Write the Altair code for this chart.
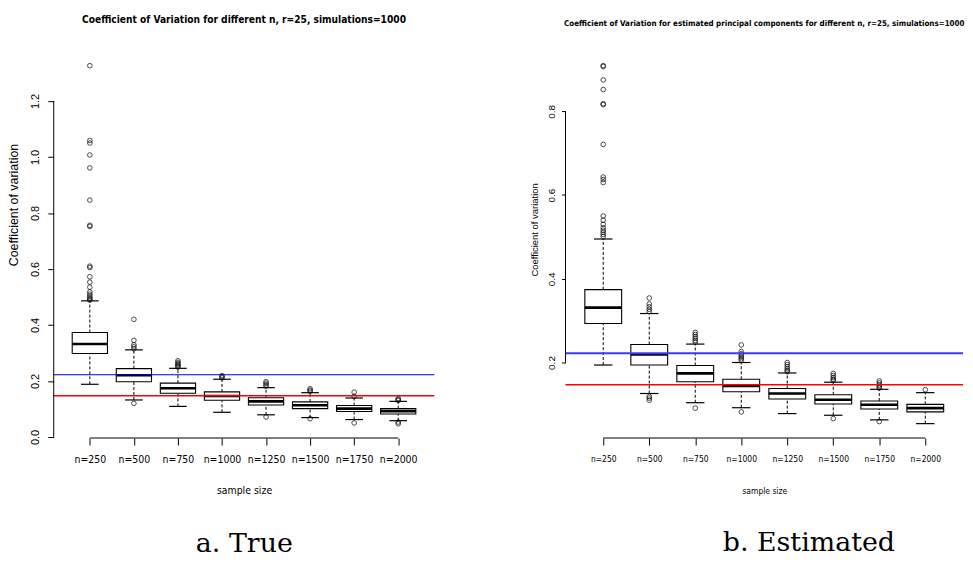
import altair as alt
import pandas as pd

# ---------------- data ----------------
labels = ["n=250", "n=500", "n=750", "n=1000", "n=1250", "n=1500", "n=1750", "n=2000"]
positions = [1, 2, 3, 4, 5, 6, 7, 8]

# panel a: true principal components
true_lo = [0.188, 0.132, 0.109, 0.088, 0.079, 0.069, 0.062, 0.058]
true_q1 = [0.298, 0.197, 0.156, 0.131, 0.114, 0.101, 0.091, 0.082]
true_med = [0.332, 0.220, 0.174, 0.146, 0.127, 0.113, 0.101, 0.092]
true_q3 = [0.373, 0.244, 0.192, 0.161, 0.140, 0.125, 0.112, 0.101]
true_hi = [0.486, 0.311, 0.245, 0.206, 0.176, 0.158, 0.139, 0.127]
true_out = [
    [1.326, 1.059, 1.050, 1.007, 0.961, 0.846, 0.756, 0.752, 0.610, 0.605, 0.572,
     0.553, 0.535, 0.518, 0.510, 0.503, 0.497, 0.492, 0.489],
    [0.420, 0.345, 0.329, 0.322, 0.315, 0.120],
    [0.272, 0.266, 0.261, 0.257, 0.253, 0.249],
    [0.219, 0.215, 0.211],
    [0.197, 0.192, 0.186, 0.181, 0.071],
    [0.172, 0.167, 0.163, 0.065],
    [0.160, 0.145, 0.050],
    [0.137, 0.133, 0.130, 0.053, 0.047],
]

# panel b: estimated principal components
est_lo = [0.194, 0.126, 0.104, 0.092, 0.078, 0.074, 0.063, 0.054]
est_q1 = [0.293, 0.194, 0.154, 0.130, 0.113, 0.101, 0.089, 0.082]
est_med = [0.331, 0.219, 0.174, 0.144, 0.126, 0.111, 0.099, 0.091]
est_q3 = [0.374, 0.243, 0.193, 0.160, 0.138, 0.123, 0.108, 0.100]
est_hi = [0.495, 0.317, 0.244, 0.200, 0.175, 0.153, 0.136, 0.128]
est_out = [
    [0.909, 0.907, 0.875, 0.852, 0.818, 0.816, 0.721, 0.643, 0.637, 0.630, 0.550,
     0.540, 0.530, 0.522, 0.516, 0.511, 0.506, 0.501],
    [0.354, 0.340, 0.333, 0.327, 0.322, 0.119, 0.115, 0.110],
    [0.272, 0.267, 0.262, 0.258, 0.253, 0.249, 0.091],
    [0.242, 0.226, 0.221, 0.217, 0.213, 0.209, 0.205, 0.082],
    [0.200, 0.195, 0.190, 0.185, 0.181, 0.178],
    [0.174, 0.169, 0.164, 0.160, 0.157, 0.066],
    [0.156, 0.151, 0.146, 0.142, 0.139, 0.059],
    [0.135],
]

ref_values = [0.222, 0.147]      # blue, red reference lines

true_ticks = [0.0, 0.2, 0.4, 0.6, 0.8, 1.0, 1.2]
est_ticks = [0.2, 0.4, 0.6, 0.8]

x_domain = [0.18, 8.82]
true_domain = [-0.004, 1.377]
est_domain = [0.0196, 0.943]

NARROW = "Liberation Sans Narrow, Arial Narrow, DejaVu Sans Condensed, sans-serif"
SANS = "Liberation Sans, Arial, sans-serif"

label_expr = "[" + ",".join("'" + l + "'" for l in labels) + "][datum.value - 1]"


def panel(lo, q1, med, q3, hi, outs, yticks, ydomain, width, title, tfs,
          xlab_fs, xtitle_fs, ylab_fs, ytitle_fs, ytitle_x, ytitle_y, ylab_pad,
          ytick, ref_colors, ref_widths):
    stats = pd.DataFrame({"pos": positions, "lo": lo, "q1": q1, "med": med,
                          "q3": q3, "hi": hi})
    stats["left"] = stats["pos"] - 0.4
    stats["right"] = stats["pos"] + 0.4
    stats["capl"] = stats["pos"] - 0.2
    stats["capr"] = stats["pos"] + 0.2
    out_df = pd.DataFrame([{"pos": p, "v": v} for p, vs in zip(positions, outs) for v in vs])
    ref_df = pd.DataFrame({"v": ref_values, "c": ref_colors, "w": ref_widths,
                           "x0": [x_domain[0]] * 2, "x1": [x_domain[1]] * 2})
    yaxis_df = pd.DataFrame({"x": [x_domain[0]], "y0": [yticks[0]], "y1": [yticks[-1]]})
    xaxis_df = pd.DataFrame({"y": [ydomain[0]], "x0": [positions[0]], "x1": [positions[-1]]})

    xs = alt.Scale(domain=x_domain, nice=False, zero=False)
    ys = alt.Scale(domain=ydomain, nice=False, zero=False)
    xaxis = alt.Axis(values=positions, labelExpr=label_expr, domain=False, grid=False,
                     ticks=True, tickSize=7, tickColor="black", tickWidth=1,
                     labelFont=NARROW, labelFontSize=xlab_fs, labelColor="black",
                     labelPadding=10, labelAngle=0, title="sample size",
                     titleFont=NARROW, titleFontSize=xtitle_fs, titleFontWeight="normal",
                     titleColor="black", titleY=53, titleBaseline="middle")
    yaxis = alt.Axis(values=yticks, format=".1f", domain=False, grid=False,
                     ticks=True, tickSize=ytick, tickColor="black", tickWidth=1,
                     labelFont=SANS, labelFontSize=ylab_fs, labelColor="black",
                     labelAngle=270, labelAlign="center", labelBaseline="bottom",
                     labelPadding=ylab_pad, title="Coefficient of variation",
                     titleFont=SANS, titleFontSize=ytitle_fs, titleFontWeight="normal",
                     titleColor="black", titleAngle=270, titleAlign="center",
                     titleBaseline="middle", titleX=ytitle_x, titleY=ytitle_y)

    def X(f):
        return alt.X(f, type="quantitative", scale=xs, axis=xaxis)

    def Y(f):
        return alt.Y(f, type="quantitative", scale=ys, axis=yaxis)

    base = alt.Chart(stats)
    up = base.mark_rule(color="black", strokeWidth=1, strokeDash=[3, 2]).encode(
        x=X("pos"), y=Y("q3"), y2="hi")
    down = base.mark_rule(color="black", strokeWidth=1, strokeDash=[3, 2]).encode(
        x=X("pos"), y=Y("lo"), y2="q1")
    cap_hi = base.mark_rule(color="black", strokeWidth=1.2).encode(
        x=X("capl"), x2="capr", y=Y("hi"))
    cap_lo = base.mark_rule(color="black", strokeWidth=1.2).encode(
        x=X("capl"), x2="capr", y=Y("lo"))
    box = base.mark_rect(fill="white", stroke="black", strokeWidth=1.1).encode(
        x=X("left"), x2="right", y=Y("q1"), y2="q3")
    median = base.mark_rule(color="black", strokeWidth=2.6).encode(
        x=X("left"), x2="right", y=Y("med"))
    outliers = alt.Chart(out_df).mark_point(shape="circle", filled=False, size=22,
                                            color="black", strokeWidth=1).encode(
        x=X("pos"), y=Y("v"))
    refs = alt.Chart(ref_df).mark_rule().encode(
        x=X("x0"), x2="x1", y=Y("v"),
        color=alt.Color("c:N", scale=None),
        strokeWidth=alt.StrokeWidth("w:Q", scale=None))
    yline = alt.Chart(yaxis_df).mark_rule(color="black", strokeWidth=1).encode(
        x=X("x"), y=Y("y0"), y2="y1")
    xline = alt.Chart(xaxis_df).mark_rule(color="black", strokeWidth=1).encode(
        x=X("x0"), x2="x1", y=Y("y"))

    return alt.layer(up, down, cap_hi, cap_lo, box, median, outliers, refs, yline, xline).properties(
        width=width, height=389,
        title=alt.Title(title, font=NARROW, fontSize=tfs, fontWeight="bold", color="black",
                        anchor="middle", frame="group", offset=18, baseline="alphabetic"))


left = panel(true_lo, true_q1, true_med, true_q3, true_hi, true_out, true_ticks, true_domain,
             383, "Coefficient of Variation for different n, r=25, simulations=1000", 10.2,
             10.5, 10.5, 11, 12.5, -40, 154, 7, 6, ["#0000c8", "#ff0000"], [1.2, 1.3])
right = panel(est_lo, est_q1, est_med, est_q3, est_hi, est_out, est_ticks, est_domain,
              400, "Coefficient of Variation for estimated principal components for different n, r=25, simulations=1000",
              8.0, 8.5, 8.5, 10, 9.5, -31, 179, 5, 4, ["#3a3aff", "#ff0000"], [2.0, 1.5])

cap_style = dict(orient="bottom", font="DejaVu Serif", fontSize=27, fontWeight="normal",
                 color="black", anchor="middle", baseline="alphabetic", offset=56)
wl = alt.hconcat(left).properties(title=alt.Title("a. True", dx=23, **cap_style))
wr = alt.hconcat(right).properties(title=alt.Title("b. Estimated", dx=62, **cap_style))

chart = alt.hconcat(wl, wr, spacing=95).properties(
    padding={"left": 0, "top": 5, "right": 0, "bottom": 0}
).configure_view(stroke=None)

chart.save("out.html", embed_options={"renderer": "svg", "actions": False})
